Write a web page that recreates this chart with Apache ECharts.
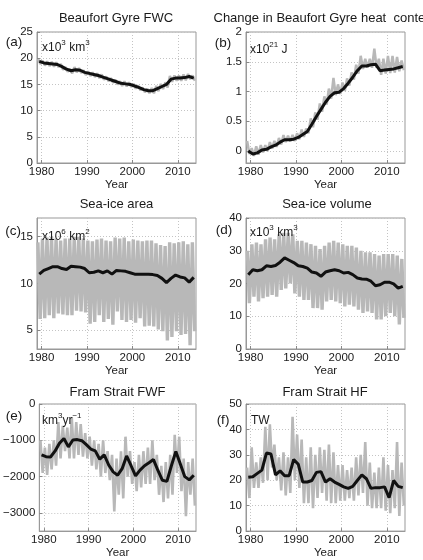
<!DOCTYPE html>
<html><head><meta charset="utf-8">
<script src="https://cdn.jsdelivr.net/npm/echarts@6/dist/echarts.min.js"></script>
<style>html,body{margin:0;padding:0;background:#fff}#c{width:423px;height:560px}</style>
</head><body><div id="c"></div>
<script>
// ---- data ----
const years = [1979,1980,1981,1982,1983,1984,1985,1986,1987,1988,1989,1990,1991,1992,1993,1994,1995,1996,1997,1998,1999,2000,2001,2002,2003,2004,2005,2006,2007,2008,2009,2010,2011,2012,2013];
const xTickYears = [1980,1990,2000,2010];

// (a) Beaufort Gyre FWC (x10^3 km^3)
const fwcAnnual = [19.4,19.1,19.0,18.9,18.8,18.4,17.9,17.6,17.8,17.7,17.3,17.1,16.9,16.7,16.4,16.1,15.8,15.5,15.2,15.1,15.0,14.7,14.4,14.0,13.8,13.8,14.2,14.6,15.0,16.0,16.2,16.2,16.3,16.5,16.2];
const fwcHigh   = [19.8,19.5,19.4,19.3,19.2,18.9,18.3,18.0,18.3,18.1,17.7,17.5,17.3,17.1,16.9,16.5,16.2,15.9,15.6,15.6,15.4,15.1,14.8,14.4,14.2,14.3,14.7,15.1,15.4,16.6,16.7,16.7,16.9,17.0,16.7];
const fwcLow    = [18.9,18.6,18.5,18.4,18.3,17.8,17.4,17.1,17.3,17.2,16.8,16.6,16.4,16.2,15.9,15.6,15.3,15.0,14.7,14.6,14.5,14.2,13.9,13.5,13.3,13.3,13.7,14.1,14.4,15.5,15.7,15.7,15.8,16.0,15.7];

// (b) Change in heat content (x10^21 J)
const heatAnnual = [0.0,-0.05,-0.03,0.02,0.03,0.07,0.10,0.15,0.19,0.19,0.20,0.23,0.28,0.33,0.45,0.58,0.70,0.82,0.92,0.98,0.99,1.05,1.14,1.24,1.35,1.43,1.43,1.45,1.46,1.35,1.36,1.37,1.38,1.40,1.42];
const heatHigh   = [0.17,0.05,0.08,0.10,0.10,0.15,0.17,0.22,0.27,0.26,0.27,0.30,0.36,0.38,0.55,0.65,0.80,0.92,1.05,1.23,1.12,1.15,1.22,1.32,1.45,1.60,1.55,1.55,1.72,1.55,1.55,1.60,1.60,1.58,1.52];
const heatLow    = [-0.05,-0.08,-0.06,-0.02,0.0,0.04,0.07,0.11,0.15,0.16,0.17,0.20,0.24,0.30,0.40,0.53,0.66,0.78,0.88,0.94,0.96,1.01,1.10,1.20,1.30,1.38,1.40,1.40,1.40,1.28,1.30,1.31,1.32,1.34,1.36];

// (c) Sea-ice area (x10^6 km^2)
const areaAnnual = [11.0,11.4,11.6,11.8,11.8,11.6,11.5,11.85,11.8,11.75,11.6,11.15,11.2,11.35,11.15,11.35,11.0,11.4,11.35,11.3,11.15,11.0,11.0,11.0,11.0,10.95,10.85,10.55,10.1,10.55,10.9,10.7,10.6,10.15,10.65];
const areaMax = [14.4,14.8,14.9,15.0,14.8,14.6,14.8,14.8,15.0,15.0,14.8,14.6,14.5,14.7,14.8,14.6,14.5,14.9,14.8,14.9,14.5,14.7,14.6,14.5,14.6,14.6,14.3,14.1,14.0,14.4,14.3,14.4,14.5,14.2,14.4];
const areaMin = [6.2,6.3,6.6,6.3,6.8,6.7,6.6,6.6,7.1,7.0,6.9,5.7,5.9,6.6,5.9,6.2,5.6,7.0,6.1,5.9,6.1,5.8,6.3,5.4,5.5,5.4,5.1,4.9,3.9,4.3,4.9,4.5,4.6,3.4,4.9];

// (d) Sea-ice volume (x10^3 km^3)
const volAnnual = [22.7,24.2,23.9,24.2,25.4,25.2,25.5,26.5,27.8,27.1,26.4,25.4,25.2,24.7,23.5,23.2,22.2,23.5,23.9,24.2,23.9,23.2,23.4,22.7,21.7,21.4,21.3,20.7,19.3,19.6,20.4,20.4,19.9,18.6,19.1];
const volMax = [30,32,32.5,32,33.5,34,33.5,35,35.5,35.5,35,33,33,32.5,32,31.5,30.5,31.5,32.5,33,32.5,32,31.5,31.5,31,30,29.5,29.5,29,28.5,29,29,29,28.5,27.5];
const volMin = [14,16,14.5,15.5,16,16.5,16,18,18.5,20,17,16,15,15,12.5,12.5,12,14.5,15,14.5,14,13,13.5,13,12,11,11.5,11,9,9,10,11,10,7.5,9.5];

// (e) Fram Strait FWF (km^3 yr^-1)
const fwfAnnual = [-1400,-1450,-1460,-1300,-1080,-950,-1180,-990,-980,-1010,-1120,-1240,-1290,-1520,-1400,-1680,-1870,-1960,-1780,-1430,-1700,-1980,-1820,-1700,-1620,-1530,-1830,-2100,-2130,-1700,-1310,-1650,-2000,-2090,-1960];
const fwfHigh = [-1000,-1200,-1100,-1000,-500,-600,-650,-370,-500,-550,-800,-900,-1000,-1100,-1000,-1300,-1400,-1500,-1300,-900,-1300,-1600,-1400,-1300,-1200,-1000,-1400,-1700,-1600,-1400,-850,-900,-1500,-1600,-1500];
const fwfLow  = [-1900,-1950,-1800,-1700,-1500,-1300,-1500,-1500,-1400,-1450,-1500,-1700,-1800,-2000,-1900,-2100,-2960,-2500,-2600,-2000,-2200,-2400,-2300,-2200,-2200,-2100,-2500,-2700,-2600,-2500,-1900,-2400,-3090,-2500,-2800];

// (f) Fram Strait HF (TW)
const hfAnnual = [21.2,21.4,22.7,24.0,30.7,30.3,22.1,23.7,21.8,21.8,28.2,26.3,19.3,19.3,19.9,23.1,23.4,19.3,20.6,19.3,18.4,17.4,16.8,17.6,19.9,22.1,20.6,16.8,17.1,17.1,17.4,13.2,19.9,17.6,17.1];
const hfHigh = [25,33,27,29,41,42,34,29,31,29,45,38,36,29,33,30,33,32,34,31,26,26,24,25,29,30,35,27,23,25,29,26,24,35,27];
const hfLow  = [13,17,17,19,20,25,20,16,14,15,20,17,11,11,9,13,15,12,11,11,12,12,13,12,14,15,10,9,9,9,8,7,9,6,10];

// ---- chart ----
const FONT = 'Liberation Sans, Arial, Helvetica, sans-serif';
const TXT = '#1a1a1a';
const GRAY = '#b8b8b8';

function annual(vals){ return years.map((y,i)=>[y+0.5, vals[i]]); }
function cycle(hi, lo, tHi, tLo){
  const out=[];
  years.forEach((y,i)=>{ out.push([y+tHi, hi[i]]); out.push([y+tLo, lo[i]]); });
  return out;
}

const grids = [
  {left:37, top:32, width:159, height:131},
  {left:246, top:32, width:159, height:131},
  {left:37, top:218, width:159, height:131},
  {left:246, top:218, width:159, height:131},
  {left:37, top:404, width:159, height:133},
  {left:246, top:404, width:159, height:131}
];

const yCfg = [
  {min:0, max:25, interval:5},
  {min:-0.2, max:2, custom:[0,0.5,1,1.5,2]},
  {min:3, max:17, custom:[5,10,15]},
  {min:0, max:40, interval:10},
  {min:-3500, max:0, custom:[-3000,-2000,-1000,0]},
  {min:0, max:50, interval:10}
];

const gridLine = {show:true, lineStyle:{color:'#c4c4c4', type:[1,2], width:1}};

const xAxes = grids.map((g,i)=>({
  type:'value', gridIndex:i, min:1979, max:2014,
  name:'Year', nameLocation:'middle', nameGap:13,
  nameTextStyle:{color:TXT, fontSize:11.5, fontFamily:FONT},
  axisLine:{onZero:false, lineStyle:{color:'#999', width:1}},
  axisTick:{show:true, inside:true, length:3, customValues:xTickYears, lineStyle:{color:'#888'}},
  axisLabel:{customValues:xTickYears, color:TXT, fontSize:11.5, fontFamily:FONT, margin:3,
    formatter:(v)=>String(v)},
  splitLine:gridLine
}));

const yAxes = grids.map((g,i)=>{
  const c = yCfg[i];
  const ax = {
    type:'value', gridIndex:i, min:c.min, max:c.max,
    axisLine:{show:true, onZero:false, lineStyle:{color:'#999', width:1}},
    axisTick:{show:true, inside:true, length:3, lineStyle:{color:'#888'}},
    axisLabel:{color:TXT, fontSize:11.5, fontFamily:FONT, margin:4,
      formatter:(v)=>String(v).replace('-', '\u2212')},
    splitLine:gridLine
  };
  if (c.interval) ax.interval = c.interval;
  if (c.custom){ ax.axisLabel.customValues = c.custom; ax.axisTick.customValues = c.custom; }
  return ax;
});

const panels = [
  {hi:fwcHigh, lo:fwcLow, ann:fwcAnnual, tHi:0.25, tLo:0.75, w:2.5},
  {hi:heatHigh, lo:heatLow, ann:heatAnnual, tHi:0.25, tLo:0.75, w:2.5},
  {hi:areaMax, lo:areaMin, ann:areaAnnual, tHi:0.2, tLo:0.7, w:3.4},
  {hi:volMax, lo:volMin, ann:volAnnual, tHi:0.3, tLo:0.75, w:3.4},
  {hi:fwfHigh, lo:fwfLow, ann:fwfAnnual, tHi:0.25, tLo:0.75, w:2.6},
  {hi:hfHigh, lo:hfLow, ann:hfAnnual, tHi:0.25, tLo:0.75, w:2.6}
];

const series = [];
panels.forEach((p,i)=>{
  series.push({type:'line', xAxisIndex:i, yAxisIndex:i, data:cycle(p.hi,p.lo,p.tHi,p.tLo),
    showSymbol:false, symbol:'none', lineStyle:{color:GRAY, width:p.w}, z:2, silent:true});
  series.push({type:'line', xAxisIndex:i, yAxisIndex:i, data:annual(p.ann),
    showSymbol:false, symbol:'none', lineStyle:{color:'#111', width:3}, z:3, silent:true});
});

function txt(x,y,text,size,align){
  return {type:'text', x:x, y:y, silent:true, z:10,
    style:{text:text, fill:TXT, font:size+'px '+FONT, align:align||'center', verticalAlign:'middle'}};
}
function unit(x,y,text){
  return {type:'text', x:x, y:y, silent:true, z:10,
    style:{text:text, fill:TXT, align:'left', verticalAlign:'middle', fontFamily:FONT,
      rich:{b:{fontSize:12, fontFamily:FONT, fill:TXT, lineHeight:15, verticalAlign:'bottom'},
            s:{fontSize:8, fontFamily:FONT, fill:TXT, lineHeight:8, verticalAlign:'top'}}}};
}

const graphics = [
  txt(116,18,'Beaufort Gyre FWC',13),
  txt(213.5,18,'Change in Beaufort Gyre heat  content',13,'left'),
  txt(116.5,204,'Sea-ice area',13),
  txt(327,204,'Sea-ice volume',13),
  txt(117.5,392,'Fram Strait FWF',13),
  txt(325,392,'Fram Strait HF',13),
  txt(14,42,'(a)',13.5), txt(223,43,'(b)',13.5), txt(13,231,'(c)',13.5),
  txt(224,230,'(d)',13.5), txt(14,416,'(e)',13.5), txt(223,420,'(f)',13.5),
  unit(42,46,'{b|x10}{s|3}{b| km}{s|3}'),
  unit(250,48,'{b|x10}{s|21}{b| J}'),
  unit(42,235,'{b|x10}{s|6}{b| km}{s|2}'),
  unit(250,231,'{b|x10}{s|3}{b| km}{s|3}'),
  unit(42,419,'{b|km}{s|3}{b|yr}{s|\u22121}'),
  unit(251,419,'{b|TW}')
];

const chart = echarts.init(document.getElementById('c'), null, {renderer:'canvas'});
chart.setOption({
  animation:false,
  backgroundColor:'#fff',
  grid: grids.map(g=>Object.assign({show:true, borderColor:'#999', borderWidth:1, backgroundColor:'#fff'}, g)),
  xAxis:xAxes, yAxis:yAxes, series:series, graphic:graphics
});
</script></body></html>
